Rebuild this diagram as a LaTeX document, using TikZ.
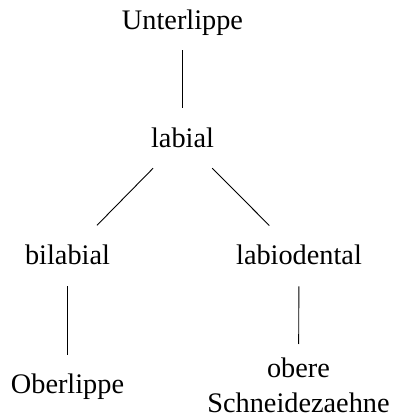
\documentclass[tikz,border=0pt]{standalone}
\usepackage{fontspec}
\setmainfont{Liberation Serif}
\begin{document}
\begin{tikzpicture}[x=1pt,y=1pt,
  lbl/.style={inner sep=0pt, outer sep=0pt, font=\fontsize{28.3}{35}\selectfont, align=center},
  edge/.style={line width=0.9pt, black}]
\useasboundingbox (0,0) rectangle (395,415);
\node[lbl, anchor=base] (u) at (182.5,385) {Unterlippe};
\node[lbl, anchor=base] (l) at (182.5,267) {labial};
\node[lbl, anchor=base] (b) at (67.5,150) {bilabial};
\node[lbl, anchor=base] (d) at (299,150) {labiodental};
\node[lbl, anchor=base] (o) at (67.5,21) {Oberlippe};
\node[lbl, anchor=north] (s) at (298.5,57.3) {obere\\Schneidezaehne};
\draw[edge, shorten <=14pt, shorten >=20.7pt] (u) -- (l);
\draw[edge, shorten <=28pt, shorten >=28pt] (l) -- (b);
\draw[edge, shorten <=28pt, shorten >=28pt] (l) -- (d);
\draw[edge, shorten <=21pt, shorten >=19.7pt] (b) -- (o);
\draw[edge, shorten <=21pt, shorten >=13.7pt] (d) -- (s);
\end{tikzpicture}
\end{document}
